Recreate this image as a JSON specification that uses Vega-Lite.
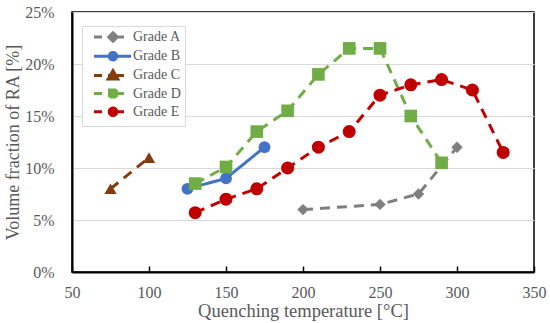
{
  "$schema": "https://vega.github.io/schema/vega-lite/v6.json",
  "width": 462,
  "height": 260,
  "autosize": "none",
  "padding": {"left": 72, "top": 12, "right": 16, "bottom": 51},
  "background": "white",
  "config": {
    "font": "Liberation Serif",
    "view": {"stroke": "#000000", "strokeWidth": 1.5},
    "axis": {"labelColor": "#595959", "titleColor": "#595959", "labelFont": "Liberation Serif", "titleFont": "Liberation Serif", "titleFontWeight": "normal", "labelFlush": false}
  },
  "data": {
    "values": [
      {"grade": "Grade A", "t": 200, "ra": 0.060},
      {"grade": "Grade A", "t": 250, "ra": 0.065},
      {"grade": "Grade A", "t": 275, "ra": 0.075},
      {"grade": "Grade A", "t": 300, "ra": 0.120},
      {"grade": "Grade B", "t": 125, "ra": 0.080},
      {"grade": "Grade B", "t": 150, "ra": 0.090},
      {"grade": "Grade B", "t": 175, "ra": 0.120},
      {"grade": "Grade C", "t": 75, "ra": 0.080},
      {"grade": "Grade C", "t": 100, "ra": 0.110},
      {"grade": "Grade D", "t": 130, "ra": 0.085},
      {"grade": "Grade D", "t": 150, "ra": 0.101},
      {"grade": "Grade D", "t": 170, "ra": 0.135},
      {"grade": "Grade D", "t": 190, "ra": 0.155},
      {"grade": "Grade D", "t": 210, "ra": 0.190},
      {"grade": "Grade D", "t": 230, "ra": 0.215},
      {"grade": "Grade D", "t": 250, "ra": 0.215},
      {"grade": "Grade D", "t": 270, "ra": 0.150},
      {"grade": "Grade D", "t": 290, "ra": 0.105},
      {"grade": "Grade E", "t": 130, "ra": 0.057},
      {"grade": "Grade E", "t": 150, "ra": 0.070},
      {"grade": "Grade E", "t": 170, "ra": 0.080},
      {"grade": "Grade E", "t": 190, "ra": 0.100},
      {"grade": "Grade E", "t": 210, "ra": 0.120},
      {"grade": "Grade E", "t": 230, "ra": 0.135},
      {"grade": "Grade E", "t": 250, "ra": 0.170},
      {"grade": "Grade E", "t": 270, "ra": 0.180},
      {"grade": "Grade E", "t": 290, "ra": 0.185},
      {"grade": "Grade E", "t": 310, "ra": 0.175},
      {"grade": "Grade E", "t": 330, "ra": 0.115}
    ]
  },
  "encoding": {
    "x": {
      "field": "t", "type": "quantitative",
      "scale": {"domain": [50, 350], "nice": false, "zero": false},
      "axis": {
        "title": "Quenching temperature [°C]",
        "values": [50, 100, 150, 200, 250, 300, 350],
        "grid": false,
        "domainColor": "#000000", "domainWidth": 2,
        "tickColor": "#000000", "tickWidth": 1.5, "tickSize": -6,
        "labelFontSize": 16, "labelPadding": 18,
        "titleFontSize": 18.5, "titlePadding": 1
      }
    },
    "y": {
      "field": "ra", "type": "quantitative",
      "scale": {"domain": [0, 0.25], "nice": false},
      "axis": {
        "title": "Volume fraction of RA [%]",
        "values": [0, 0.05, 0.1, 0.15, 0.2, 0.25],
        "format": ".0%",
        "grid": true, "gridColor": "#d9d9d9", "gridWidth": 1,
        "ticks": false,
        "domainColor": "#000000", "domainWidth": 2,
        "labelFontSize": 16, "labelPadding": 18,
        "titleFontSize": 18, "titlePadding": 2
      }
    },
    "color": {
      "field": "grade", "type": "nominal",
      "scale": {
        "domain": ["Grade A", "Grade B", "Grade C", "Grade D", "Grade E"],
        "range": ["#7f7f7f", "#4472c4", "#843c0c", "#70ad47", "#c00000"]
      },
      "legend": {
        "title": null,
        "orient": "none",
        "legendX": 10,
        "legendY": 14,
        "padding": 4,
        "fillColor": "white",
        "strokeColor": "#d9d9d9",
        "labelFontSize": 14,
        "labelColor": "#595959",
        "labelFont": "Liberation Serif",
        "labelOffset": 13,
        "symbolOffset": 20,
        "symbolSize": 100,
        "rowPadding": -1.8,
        "encode": {
          "symbols": {
            "update": {
              "shape": {"signal": "datum.value === 'Grade A' ? 'M-3.8,0H-2.2M-1,0H2.2M0,-0.85L0.85,0L0,0.85L-0.85,0Z' : datum.value === 'Grade B' ? 'M-3.8,0H3.6M-0.75,0C-0.75,-0.414,-0.414,-0.75,0,-0.75C0.414,-0.75,0.75,-0.414,0.75,0C0.75,0.414,0.414,0.75,0,0.75C-0.414,0.75,-0.75,0.414,-0.75,0Z' : datum.value === 'Grade C' ? 'M-3.8,0H-2.2M-1,0H2.2M0,-0.95L0.95,0.7L-0.95,0.7Z' : datum.value === 'Grade D' ? 'M-3.8,0H-2.2M-1,0H2.2M-0.7,-0.7H0.7V0.7H-0.7Z' : 'M-3.8,0H-2.2M-1,0H2.2M-0.75,0C-0.75,-0.414,-0.414,-0.75,0,-0.75C0.414,-0.75,0.75,-0.414,0.75,0C0.75,0.414,0.414,0.75,0,0.75C-0.414,0.75,-0.75,0.414,-0.75,0Z'"},
              "size": {"value": 100},
              "fill": {"scale": "color", "field": "value"},
              "stroke": {"scale": "color", "field": "value"},
              "strokeWidth": {"value": 3},
              "strokeDash": {"value": [1, 0]},
              "opacity": {"value": 1},
              "fillOpacity": {"value": 1}
            }
          }
        }
      }
    }
  },
  "layer": [
    {
      "mark": {"type": "line", "strokeWidth": 3},
      "encoding": {
        "strokeDash": {
          "field": "grade", "type": "nominal",
          "scale": {
            "range": [[10, 7], [1, 0], [10, 7], [10, 7], [10, 7]]
          },
          "legend": null
        }
      }
    },
    {
      "mark": {"type": "point", "filled": true, "opacity": 1},
      "encoding": {
        "shape": {
          "field": "grade", "type": "nominal",
          "scale": {
            "range": ["diamond", "circle", "triangle-up", "square", "circle"]
          },
          "legend": null
        },
        "size": {
          "field": "grade", "type": "nominal",
          "scale": {
            "range": [130, 170, 160, 190, 150]
          },
          "legend": null
        }
      }
    }
  ]
}
